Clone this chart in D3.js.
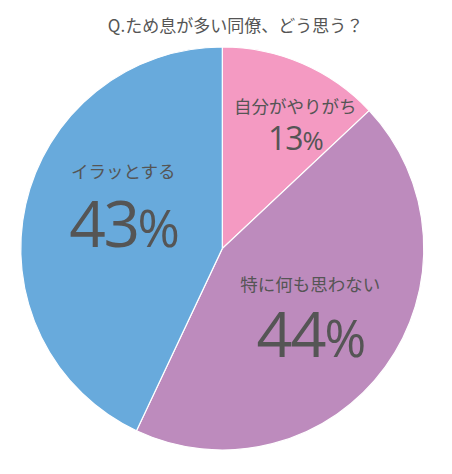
<!DOCTYPE html>
<html>
<head>
<meta charset="utf-8">
<script src="https://cdn.jsdelivr.net/npm/d3@7"></script>
<style>
  body { margin: 0; background: #fff; }
  text { fill: #555; }
</style>
</head>
<body>
<div id="chart"></div>
<script>
// chart data
var titleText = "Q.ため息が多い同僚、どう思う？";
var categories = ["自分がやりがち", "特に何も思わない", "イラッとする"];
var values = [13, 44, 43];
var colors = ["#F49AC2", "#BD8BBD", "#68AADC"];

// svg size
var svgWidth = 452;
var svgHeight = 474;

// pie center and radius
var cx = 222.3;
var cy = 248.5;
var radius = 201.5;

// label anchors, offset from the pie center (name row / percent row)
var labelOffsets = [
  { x: 73, nameY: -136, pctY: -98.5, nameSize: 17.5, pctSize: 32, spacing: -1 },
  { x: 88, nameY: 42, pctY: 108.5, nameSize: 17.5, pctSize: 63, spacing: -2 },
  { x: -99, nameY: -71, pctY: -1.5, nameSize: 17.5, pctSize: 64, spacing: -2.5 }
];

var svg = d3.select("#chart")
  .append("svg")
  .attr("width", svgWidth)
  .attr("height", svgHeight);

// title
svg.append("text")
  .attr("x", 235.5)
  .attr("y", 32)
  .attr("text-anchor", "middle")
  .style("font-family", "'Noto Sans CJK JP', 'Noto Sans', sans-serif")
  .style("font-size", "17px")
  .text(titleText);

var chartGroup = svg.append("g")
  .attr("transform", `translate(${cx}, ${cy})`);

var pie = d3.pie()
  .sort(null)
  .value(d => d);

var arc = d3.arc()
  .innerRadius(0)
  .outerRadius(radius);

var arcs = pie(values);

chartGroup.selectAll("path")
  .data(arcs)
  .enter()
  .append("path")
  .attr("d", arc)
  .attr("fill", (d, i) => colors[i])
  .attr("stroke", "#fff")
  .attr("stroke-width", 1.2);

// slice labels
var labels = chartGroup.selectAll("g.label")
  .data(arcs)
  .enter()
  .append("g")
  .attr("class", "label");

labels.append("text")
  .attr("x", (d, i) => labelOffsets[i].x)
  .attr("y", (d, i) => labelOffsets[i].nameY)
  .attr("text-anchor", "middle")
  .style("font-family", "'Noto Sans CJK JP', sans-serif")
  .style("font-size", (d, i) => labelOffsets[i].nameSize + "px")
  .text((d, i) => categories[i]);

var pct = labels.append("text")
  .attr("x", (d, i) => labelOffsets[i].x)
  .attr("y", (d, i) => labelOffsets[i].pctY)
  .attr("text-anchor", "middle")
  .style("font-family", "'Open Sans', 'Noto Sans', sans-serif")
  .style("font-weight", 500)
  .style("letter-spacing", (d, i) => labelOffsets[i].spacing + "px")
  .style("font-size", (d, i) => labelOffsets[i].pctSize + "px");

pct.append("tspan")
  .text(d => d.data);

// the percent sign is smaller and lighter than the digits
pct.append("tspan")
  .style("font-weight", 400)
  .style("font-size", (d, i) => (labelOffsets[i].pctSize * 0.8) + "px")
  .text("%");
</script>
</body>
</html>
